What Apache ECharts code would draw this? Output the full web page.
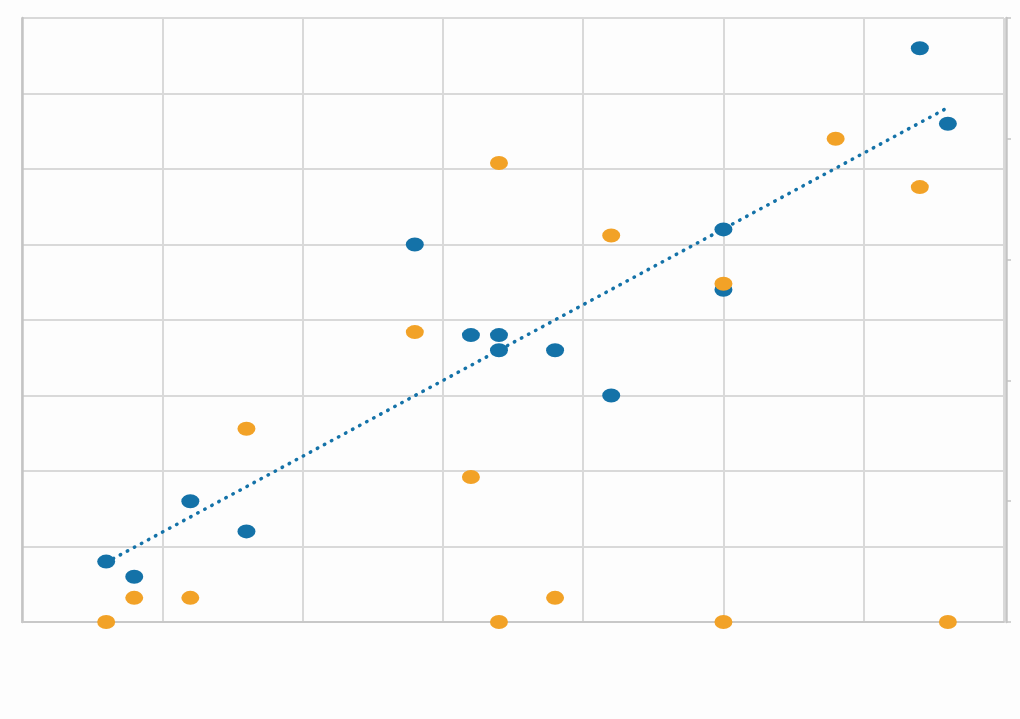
<!DOCTYPE html>
<html>
<head>
<meta charset="utf-8">
<style>
  html, body { margin: 0; padding: 0; background: #fdfdfd; }
  #chart { width: 1020px; height: 719px; }
</style>
<script src="https://cdn.jsdelivr.net/npm/echarts@6/dist/echarts.min.js"></script>
</head>
<body>
<div id="chart"></div>
<script>
// Blue series (left axis)
const blueX = [3, 4, 6, 8, 14, 16, 17, 17, 19, 21, 25, 25, 32, 33];
const blueY = [4, 3, 8, 6, 25, 19, 19, 18, 18, 15, 26, 22, 38, 33];
// Orange series (right axis)
const orangeX = [3, 4, 6, 8, 14, 16, 17, 17, 19, 21, 25, 25, 29, 32, 33];
const orangeY = [0, 1, 1, 8, 12, 6, 19, 0, 1, 16, 0, 14, 20, 18, 0];

const BLUE = '#1472a8';
const ORANGE = '#f2a227';

// linear regression trend for blue series
function regression(xs, ys) {
  const n = xs.length;
  const mx = xs.reduce((a, b) => a + b, 0) / n;
  const my = ys.reduce((a, b) => a + b, 0) / n;
  let sxy = 0, sxx = 0;
  for (let i = 0; i < n; i++) {
    sxy += (xs[i] - mx) * (ys[i] - my);
    sxx += (xs[i] - mx) * (xs[i] - mx);
  }
  const slope = sxy / sxx;
  const intercept = my - slope * mx;
  const x0 = Math.min(...xs), x1 = Math.max(...xs);
  return [[x0, intercept + slope * x0], [x1, intercept + slope * x1]];
}

const chart = echarts.init(document.getElementById('chart'), null, { renderer: 'canvas' });
chart.setOption({
  backgroundColor: '#fdfdfd',
  animation: false,
  grid: { left: 22, right: 16, top: 18, bottom: 97 },
  xAxis: {
    type: 'value', min: 0, max: 35, interval: 5,
    axisLine: { show: true, lineStyle: { color: '#c8c8c8', width: 2 } },
    axisTick: { show: false },
    axisLabel: { show: false },
    splitLine: { show: true, lineStyle: { color: '#d9d9d9', width: 2 } }
  },
  yAxis: [
    {
      type: 'value', min: 0, max: 40, interval: 5, position: 'left',
      axisLine: { show: true, onZero: false, lineStyle: { color: '#c4c4c4', width: 2.5 } },
      axisTick: { show: false },
      axisLabel: { show: false },
      splitLine: { show: true, lineStyle: { color: '#d9d9d9', width: 2 } }
    },
    {
      type: 'value', min: 0, max: 25, interval: 5, position: 'right', offset: 2,
      axisLine: { show: true, onZero: false, lineStyle: { color: '#c4c4c4', width: 2.5 } },
      axisTick: { show: true, inside: false, length: 5, lineStyle: { color: '#c4c4c4', width: 1.5 } },
      axisLabel: { show: false },
      splitLine: { show: false }
    }
  ],
  series: [
    {
      type: 'line',
      yAxisIndex: 0,
      data: regression(blueX, blueY),
      symbol: 'none',
      lineStyle: { color: BLUE, width: 3.5, type: [0.5, 7.5], cap: 'round' },
      z: 1
    },
    {
      type: 'scatter',
      yAxisIndex: 0,
      data: blueX.map((x, i) => [x, blueY[i]]),
      symbol: 'circle',
      symbolSize: [18, 14],
      itemStyle: { color: BLUE, opacity: 1 },
      z: 2
    },
    {
      type: 'scatter',
      yAxisIndex: 1,
      data: orangeX.map((x, i) => [x, orangeY[i]]),
      symbol: 'circle',
      symbolSize: [18, 14],
      itemStyle: { color: ORANGE, opacity: 1 },
      z: 3
    }
  ]
});
</script>
</body>
</html>
